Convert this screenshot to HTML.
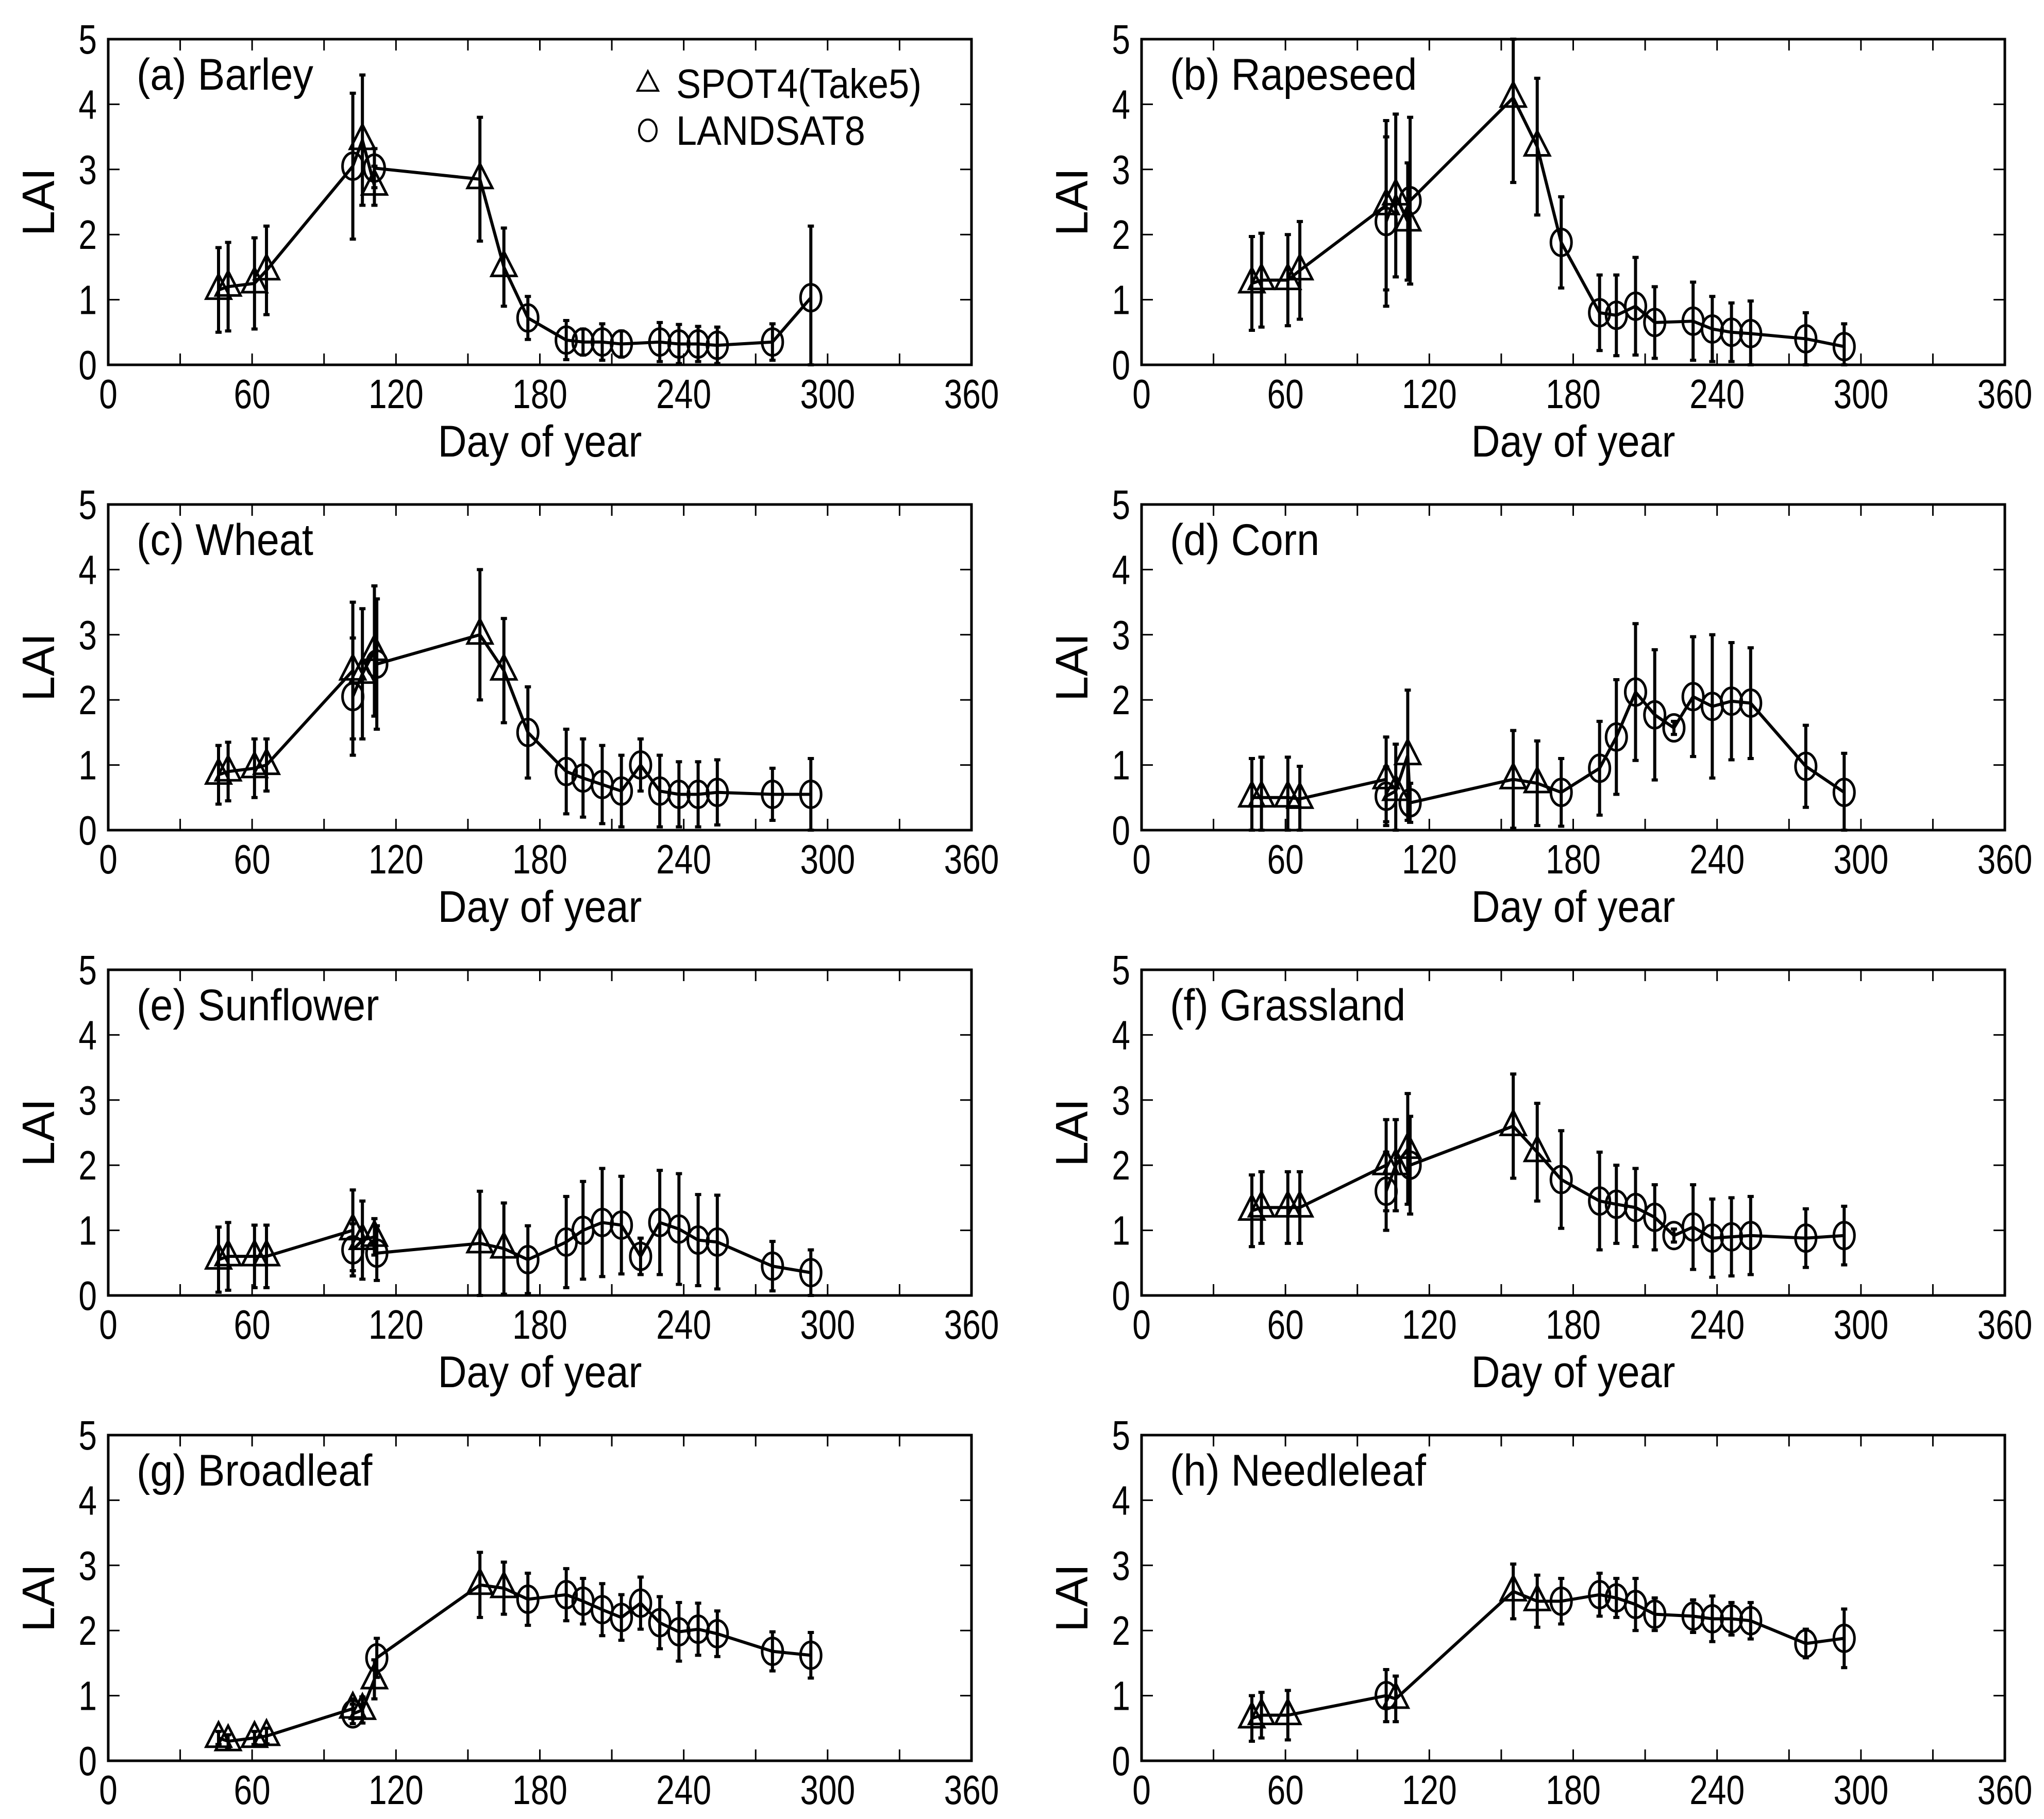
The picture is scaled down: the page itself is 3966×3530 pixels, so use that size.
<!DOCTYPE html>
<html><head><meta charset="utf-8"><style>
html,body{margin:0;padding:0;background:#fff;}
svg{display:block;font-family:"Liberation Sans",Arial,sans-serif;}
</style></head><body>
<svg id="fig" width="3966" height="3530" viewBox="0 0 3966 3530" xmlns="http://www.w3.org/2000/svg"></svg>
<script>
const xTicks=[0,60,120,180,240,300,360];
const yTicks=[0,1,2,3,4,5];
const titles=["(a) Barley","(b) Rapeseed","(c) Wheat","(d) Corn","(e) Sunflower","(f) Grassland","(g) Broadleaf","(h) Needleleaf"];
const S9=[46,50,61,66,102,106,111,155,165];
const L13=[102,111,175,191,198,206,214,230,238,246,254,277,293];
const L14=[102,112,175,191,198,206,214,222,230,238,246,254,277,293];
// (a) Barley
const aSD=[46,50,61,66,106,111,155,165];
const aSV=[1.15,1.2,1.25,1.45,3.45,2.75,2.85,1.5];
const aSE=[0.65,0.68,0.7,0.68,1.0,0.3,0.95,0.6];
const aLD=L13;
const aLV=[3.05,3.02,0.72,0.38,0.35,0.35,0.32,0.35,0.32,0.32,0.3,0.35,1.03];
const aLE=[1.12,0.3,0.33,0.3,0.2,0.28,0.2,0.3,0.3,0.27,0.28,0.28,1.1];
// (b) Rapeseed
const bSD=S9;
const bSV=[1.25,1.3,1.3,1.45,2.45,2.6,2.2,4.1,3.35];
const bSE=[0.72,0.72,0.7,0.75,1.3,1.25,0.9,1.3,1.05];
const bLD=[102,112,175,191,198,206,214,230,238,246,254,277,293];
const bLV=[2.2,2.52,1.88,0.8,0.76,0.9,0.65,0.67,0.55,0.5,0.48,0.4,0.28];
const bLE=[1.3,1.28,0.7,0.58,0.62,0.75,0.55,0.6,0.5,0.45,0.5,0.4,0.35];
// (c) Wheat
const cSD=S9;
const cSV=[0.85,0.9,0.95,1.0,2.45,2.4,2.75,3.0,2.45];
const cSE=[0.45,0.45,0.45,0.4,1.05,1.0,1.0,1.0,0.8];
const cLD=L14;
const cLV=[2.05,2.55,1.5,0.9,0.8,0.7,0.6,1.0,0.6,0.55,0.55,0.58,0.55,0.55];
const cLE=[0.9,1.0,0.7,0.65,0.6,0.6,0.55,0.4,0.55,0.5,0.5,0.5,0.4,0.55];
// (d) Corn
const dSD=S9;
const dSV=[0.5,0.5,0.5,0.48,0.78,0.6,1.15,0.78,0.72];
const dSE=[0.6,0.62,0.62,0.5,0.65,0.72,1.0,0.75,0.65];
const dLD=L14;
const dLV=[0.52,0.42,0.58,0.95,1.43,2.12,1.77,1.57,2.05,1.9,1.98,1.95,0.98,0.58];
const dLE=[0.45,0.3,0.52,0.72,0.88,1.05,1.0,0.1,0.92,1.1,0.9,0.85,0.63,0.6];
// (e) Sunflower
const eSD=S9;
const eSV=[0.55,0.6,0.6,0.6,1.0,0.85,0.9,0.8,0.72];
const eSE=[0.5,0.52,0.48,0.48,0.62,0.6,0.28,0.8,0.7];
const eLD=L14;
const eLV=[0.7,0.65,0.55,0.82,1.0,1.12,1.08,0.6,1.12,1.02,0.85,0.82,0.45,0.35];
const eLE=[0.4,0.42,0.52,0.7,0.75,0.83,0.75,0.28,0.8,0.85,0.7,0.72,0.38,0.35];
// (f) Grassland
const fSD=S9;
const fSV=[1.3,1.35,1.35,1.35,2.0,2.0,2.25,2.6,2.2];
const fSE=[0.55,0.55,0.55,0.55,0.7,0.7,0.85,0.8,0.75];
const fLD=L14;
const fLV=[1.6,2.0,1.78,1.45,1.4,1.35,1.2,0.92,1.05,0.88,0.9,0.92,0.88,0.92];
const fLE=[0.6,0.75,0.75,0.75,0.6,0.6,0.5,0.1,0.65,0.6,0.6,0.6,0.45,0.45];
// (g) Broadleaf
const gSD=S9;
const gSV=[0.35,0.3,0.35,0.38,0.8,0.78,1.25,2.7,2.65];
const gSE=[0.1,0.1,0.1,0.12,0.15,0.2,0.3,0.5,0.4];
const gLD=L14;
const gLV=[0.72,1.58,2.48,2.55,2.45,2.32,2.2,2.42,2.12,1.98,2.02,1.95,1.68,1.62];
const gLE=[0.15,0.3,0.4,0.4,0.35,0.4,0.35,0.4,0.4,0.45,0.4,0.35,0.3,0.35];
// (h) Needleleaf
const hSD=[46,50,61,106,155,165];
const hSV=[0.65,0.7,0.7,0.95,2.6,2.45];
const hSE=[0.35,0.35,0.38,0.35,0.42,0.4];
const hLD=[102,175,191,198,206,214,230,238,246,254,277,293];
const hLV=[1.0,2.45,2.55,2.5,2.4,2.25,2.22,2.18,2.18,2.15,1.8,1.88];
const hLE=[0.4,0.35,0.33,0.3,0.4,0.25,0.25,0.35,0.25,0.28,0.22,0.45];

const panels=[
 [aSD,aSV,aSE,aLD,aLV,aLE],[bSD,bSV,bSE,bLD,bLV,bLE],
 [cSD,cSV,cSE,cLD,cLV,cLE],[dSD,dSV,dSE,dLD,dLV,dLE],
 [eSD,eSV,eSE,eLD,eLV,eLE],[fSD,fSV,fSE,fLD,fLV,fLE],
 [gSD,gSV,gSE,gLD,gLV,gLE],[hSD,hSV,hSE,hLD,hLV,hLE]];

const NS="http://www.w3.org/2000/svg";
const svg=document.getElementById('fig');
function mk(tag,attrs,parent){const e=document.createElementNS(NS,tag);for(const k in attrs)e.setAttribute(k,attrs[k]);(parent||svg).appendChild(e);return e;}
function txt(parent,x,y,size,anchor,sx,str,extra){
 const t=mk('text',{x:0,y:0,'font-size':size,'text-anchor':anchor,transform:`translate(${x},${y})${extra||''} scale(${sx},1)`},parent);
 t.textContent=str;return t;
}
const colX=[210,2215], W=1675, rowY=[76,979,1882,2785], H=632;

panels.forEach((p,i)=>{
 const L=colX[i%2], T=rowY[Math.floor(i/2)], R=L+W, B=T+H;
 const sx=d=>L+d/360*W, sy=v=>B-v/5*H;
 const g=mk('g',{});
 
 
 const fr=mk('rect',{x:L,y:T,width:W,height:H,fill:'none',stroke:'#000','stroke-width':5},g);
 
 
 for(let d=0;d<=360;d+=30){
  mk('line',{x1:sx(d),x2:sx(d),y1:B,y2:B-22,stroke:'#000','stroke-width':3},g);
  mk('line',{x1:sx(d),x2:sx(d),y1:T,y2:T+22,stroke:'#000','stroke-width':3},g);
 }
 xTicks.forEach(t=>{
  const tx=txt(g,sx(t),B+84,80,'middle',0.8,String(t));
  
  
 });
 yTicks.forEach(t=>{
  mk('line',{x1:L,x2:L+22,y1:sy(t),y2:sy(t),stroke:'#000','stroke-width':3},g);
  mk('line',{x1:R,x2:R-22,y1:sy(t),y2:sy(t),stroke:'#000','stroke-width':3},g);
  const ty=txt(g,L-22,sy(t)+28,80,'end',0.8,String(t));
  
  
 });
 const yl=txt(g,L-105,T+H/2,88,'middle',1,'LAI',' rotate(-90)');
 
 
 if(i<6){
  const xl=txt(g,L+W/2,B+178,86,'middle',0.9,'Day of year');
  
  
 }
 const tt=txt(g,L+55,T+98,86,'start',0.92,titles[i]);
 
 

 const [SD,SV,SE,LD,LV,LE]=p;
 const pts=[];
 SD.forEach((d,k)=>pts.push([d,SV[k],SE[k],'t']));
 LD.forEach((d,k)=>pts.push([d,LV[k],LE[k],'c']));
 pts.sort((a,b)=>a[0]-b[0]);
 const ln=mk('polyline',{points:pts.map(q=>sx(q[0])+','+sy(q[1])).join(' '),fill:'none',stroke:'#000','stroke-width':6,'stroke-linejoin':'round'},g);
 
 
 pts.forEach(q=>{
  const x=sx(q[0]), y=sy(q[1]);
  const y1=sy(Math.min(5,q[1]+q[2])), y2=sy(Math.max(0,q[1]-q[2]));
  const eb=mk('path',{d:`M${x},${y1}V${y2}M${x-6},${y1}H${x+6}M${x-6},${y2}H${x+6}`,stroke:'#000','stroke-width':6,fill:'none'},g);
  
  
  let m;
  if(q[3]==='t'){
   m=mk('path',{d:`M${x},${y-30}L${x+24},${y+17}L${x-24},${y+17}Z`,fill:'none',stroke:'#000','stroke-width':5},g);
   
  }else{
   m=mk('ellipse',{cx:x,cy:y,rx:20,ry:26,fill:'none',stroke:'#000','stroke-width':5},g);
   
  }
  
 });
 if(i===0){
  const lg=mk('g',{},g);
  
  
  const lx=1257, ly1=162, ly2=253;
  const t1=mk('path',{d:`M${lx},${ly1-24}L${lx+20},${ly1+14}L${lx-20},${ly1+14}Z`,fill:'none',stroke:'#000','stroke-width':4},lg);
  
  
  const c1=mk('ellipse',{cx:lx,cy:ly2,rx:17,ry:21,fill:'none',stroke:'#000','stroke-width':4},lg);
  
  
  const e1=txt(lg,1312,ly1+28,80,'start',0.9,'SPOT4(Take5)');
  
  
  const e2=txt(lg,1312,ly2+28,80,'start',0.9,'LANDSAT8');
  
  
 }
});
</script>
</body></html>
